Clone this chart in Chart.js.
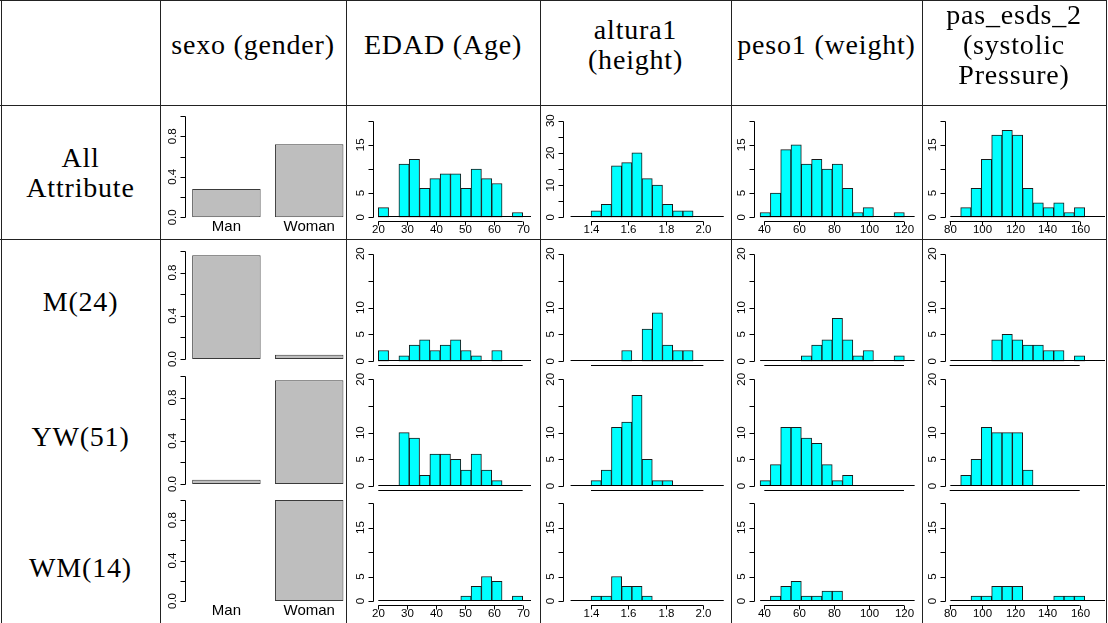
<!DOCTYPE html>
<html>
<head>
<meta charset="utf-8">
<script src="https://cdn.jsdelivr.net/npm/chart.js@4.4.0/dist/chart.umd.min.js"></script>
<style>
html,body{margin:0;padding:0;background:#fff;}
#page{position:relative;width:1108px;height:623px;overflow:hidden;font-family:"Liberation Serif","DejaVu Serif",serif;color:#000;}
.vl{position:absolute;top:0;bottom:0;width:1px;background:#222;z-index:5;}
.hl{position:absolute;left:0;width:1107px;height:1px;background:#222;z-index:5;}
.txt{position:absolute;transform:translate(-50%,-50%);font-size:28px;letter-spacing:0.8px;line-height:30px;white-space:nowrap;text-align:center;z-index:6;}
canvas{position:absolute;}
</style>
</head>
<body>
<div id="page"></div>
<script>
// ---- data ----
const groups = ['All\nAttribute', 'M(24)', 'YW(51)', 'WM(14)'];
const headers = ['sexo (gender)', 'EDAD (Age)', 'altura1\n(height)', 'peso1 (weight)', 'pas_esds_2\n(systolic\nPressure)'];

const sexLabels = ['Man', 'Woman'];
const sexAll = [0.28, 0.72];
const sexM = [0.96, 0.04];
const sexYW = [0.04, 0.96];
const sexWM = [0.0, 1.0];

const ageBreaks = [20, 23.57, 27.14, 30.71, 34.29, 37.86, 41.43, 45, 48.57, 52.14, 55.71, 59.29, 62.86, 66.43, 70, 73.57];
const ageAll = [2, 0, 11, 12, 6, 8, 9, 9, 6, 10, 8, 7, 0, 1, 0];
const ageM   = [2, 0, 1, 3, 4, 2, 3, 4, 2, 1, 0, 2, 0, 0, 0];
const ageYW  = [0, 0, 10, 9, 2, 6, 6, 5, 3, 6, 3, 1, 0, 0, 0];
const ageWM  = [0, 0, 0, 0, 0, 0, 0, 0, 1, 3, 5, 4, 0, 1, 0];

const heightBreaks = [1.291, 1.345, 1.4, 1.455, 1.509, 1.564, 1.618, 1.673, 1.727, 1.782, 1.836, 1.891, 1.945, 2.0, 2.055, 2.109];
const heightAll = [0, 0, 2, 4, 16, 17, 20, 12, 10, 4, 2, 2, 0, 0, 0];
const heightM   = [0, 0, 0, 0, 0, 2, 0, 6, 9, 3, 2, 2, 0, 0, 0];
const heightYW  = [0, 0, 1, 3, 11, 12, 17, 5, 1, 1, 0, 0, 0, 0, 0];
const heightWM  = [0, 0, 1, 1, 5, 3, 3, 1, 0, 0, 0, 0, 0, 0, 0];

const weightBreaks = [37.6, 43.5, 49.4, 55.3, 61.2, 67.1, 73.0, 78.9, 84.8, 90.7, 96.6, 102.5, 108.4, 114.3, 120.2, 126.1];
const weightAll = [1, 5, 14, 15, 11, 12, 10, 11, 6, 1, 2, 0, 0, 1, 0];
const weightM   = [0, 0, 0, 0, 1, 3, 4, 8, 4, 1, 2, 0, 0, 1, 0];
const weightYW  = [1, 4, 11, 11, 9, 8, 4, 1, 2, 0, 0, 0, 0, 0, 0];
const weightWM  = [0, 1, 3, 4, 1, 1, 2, 2, 0, 0, 0, 0, 0, 0, 0];

const pressureBreaks = [80.4, 86.76, 93.12, 99.48, 105.84, 112.2, 118.56, 124.92, 131.28, 137.64, 144.0, 150.36, 156.72, 163.08, 169.44, 175.8];
const pressureAll = [0, 2, 6, 12, 17, 18, 17, 6, 3, 2, 3, 1, 2, 0, 0];
const pressureM   = [0, 0, 0, 0, 4, 5, 4, 3, 3, 2, 2, 0, 1, 0, 0];
const pressureYW  = [0, 2, 5, 11, 10, 10, 10, 3, 0, 0, 0, 0, 0, 0, 0];
const pressureWM  = [0, 0, 1, 1, 3, 3, 3, 0, 0, 0, 1, 1, 1, 0, 0];

// tick values
const sexTicks = [0, 0.2, 0.4, 0.6, 0.8, 1.0];
const sexTickLabels = [0, 0.4, 0.8];
const countTicks = [0, 5, 10, 15, 20];
const heightAllTicks = [0, 5, 10, 15, 20, 25, 30];
const heightAllTickLabels = [0, 10, 20, 30];
const countLabelsWide = [0, 5, 15];
const countLabelsTall = [0, 5, 10, 20];
const ageTicks = [20, 30, 40, 50, 60, 70];
const heightTicks = [1.4, 1.6, 1.8, 2.0];
const weightTicks = [40, 60, 80, 100, 120];
const pressureTicks = [80, 100, 120, 140, 160];

// ---- layout (pixels) ----
const colLines = [1, 160, 346, 540, 731, 922, 1106];
const rowLines = [0, 105, 239];
const cols = {
  sexo:     {cx0: 161, cx1: 356, L: 185,   R: 350.6},
  age:      {cx0: 347, cx1: 540, L: 373.3, R: 531,  min: 18.27, max: 72.88},
  height:   {cx0: 541, cx1: 731, L: 563.3, R: 726,  min: 1.252, max: 2.121},
  weight:   {cx0: 732, cx1: 922, L: 754.3, R: 920,  min: 34.27, max: 129.17},
  pressure: {cx0: 923, cx1: 1108, L: 944.7, R: 1105, min: 76.92, max: 175.57}
};
const rows = [
  {cy0: 106, cy1: 239, top: 120.7, zero: 217.3, sexTop: 116, sexZero: 217.3, xlab: true,  tall: false},
  {cy0: 240, cy1: 368, top: 253.7, zero: 361.3, sexTop: 251, sexZero: 359,   xlab: false, tall: true},
  {cy0: 368, cy1: 494, top: 379.3, zero: 486,   sexTop: 376, sexZero: 484,   xlab: false, tall: true},
  {cy0: 494, cy1: 623, top: 503,   zero: 601,   sexTop: 500, sexZero: 601,   xlab: true,  tall: false}
];

const page = document.getElementById('page');
colLines.forEach(x => { const d = document.createElement('div'); d.className = 'vl'; d.style.left = x + 'px'; page.appendChild(d); });
rowLines.forEach(y => { const d = document.createElement('div'); d.className = 'hl'; d.style.top = y + 'px'; page.appendChild(d); });

function addText(str, x, y) {
  const d = document.createElement('div');
  d.className = 'txt';
  d.style.left = x + 'px'; d.style.top = y + 'px';
  d.innerHTML = str.split('\n').join('<br>');
  page.appendChild(d);
}
const headerCenters = [253, 443, 635.5, 826.5, 1014];
headers.forEach((h, i) => addText(h, headerCenters[i], 45));
const groupCenters = [173, 302, 437, 568];
groups.forEach((g, i) => addText(g, 80.5, groupCenters[i]));

// R-like axes: drawn through the chart's own scales
const rStyleAxes = {
  id: 'rStyleAxes',
  afterDatasetsDraw(chart, args, o) {
    const ctx = chart.ctx, xs = chart.scales.x, ys = chart.scales.y, area = chart.chartArea;
    const px = v => Math.round(v) + 0.5;
    const seg = (x1, y1, x2, y2) => { ctx.beginPath(); ctx.moveTo(x1, y1); ctx.lineTo(x2, y2); ctx.stroke(); };
    ctx.save();
    ctx.strokeStyle = '#000'; ctx.fillStyle = '#000'; ctx.lineWidth = 1;
    if (o.breaks) {
      const y = px(ys.getPixelForValue(0) - 1);
      seg(Math.max(area.left, xs.getPixelForValue(o.breaks[0])), y,
          Math.min(area.right, xs.getPixelForValue(o.breaks[o.breaks.length - 1])), y);
    }
    const ax = px(area.left);
    const yt = o.yTicks;
    seg(ax, px(ys.getPixelForValue(yt[0])), ax, px(ys.getPixelForValue(yt[yt.length - 1])));
    yt.forEach(v => { const y = px(ys.getPixelForValue(v)); seg(ax - 5, y, ax, y); });
    ctx.font = '11.5px "Liberation Sans", Arial, sans-serif';
    ctx.textAlign = 'center'; ctx.textBaseline = 'middle';
    o.yLabels.forEach(v => {
      ctx.save();
      ctx.translate(ax - 12.5, ys.getPixelForValue(v));
      ctx.rotate(-Math.PI / 2);
      ctx.fillText(v.toFixed(o.yDigits), 0, 0);
      ctx.restore();
    });
    if (o.xTicks) {
      const ay = px(area.bottom + 4);
      const xt = o.xTicks;
      seg(xs.getPixelForValue(xt[0]), ay, xs.getPixelForValue(xt[xt.length - 1]), ay);
      if (o.xLabels) {
        xt.forEach(v => {
          const x = px(xs.getPixelForValue(v));
          seg(x, ay, x, ay + 4);
          ctx.fillText(v.toFixed(o.xDigits), x, ay + 8);
        });
      }
    }
    if (o.names) {
      ctx.font = '15px "Liberation Sans", Arial, sans-serif';
      chart.data.labels.forEach((n, i) => ctx.fillText(n, xs.getPixelForValue(i), area.bottom + 10));
    }
    ctx.restore();
  }
};

function makeCanvas(c, r) {
  const cv = document.createElement('canvas');
  cv.width = c.cx1 - c.cx0; cv.height = r.cy1 - r.cy0;
  cv.style.left = c.cx0 + 'px'; cv.style.top = r.cy0 + 'px';
  page.appendChild(cv);
  return cv;
}

function sexChart(values, r) {
  const c = cols.sexo;
  const cv = makeCanvas(c, r);
  new Chart(cv, {
    type: 'bar',
    data: {labels: sexLabels, datasets: [{data: values, backgroundColor: '#bebebe', borderColor: '#3a3a3a', borderWidth: 1, borderSkipped: false, barPercentage: 0.827, categoryPercentage: 1}]},
    options: {
      responsive: false, animation: false, events: [],
      layout: {padding: {left: c.L - c.cx0, right: c.cx1 - c.R, top: r.sexTop - r.cy0, bottom: r.cy1 - r.sexZero}},
      scales: {x: {type: 'category', display: false, offset: true}, y: {display: false, min: 0, max: 1}},
      plugins: {legend: {display: false}, tooltip: {enabled: false},
        rStyleAxes: {yTicks: sexTicks, yLabels: sexTickLabels, yDigits: 1, names: r.xlab}}
    },
    plugins: [rStyleAxes]
  });
}

function histChart(key, breaks, counts, r, ticks, xDigits, yTicks, yLabels) {
  const c = cols[key];
  const cv = makeCanvas(c, r);
  const pts = counts.map((n, i) => ({x: (breaks[i] + breaks[i + 1]) / 2, y: n}));
  const yMax = yTicks[yTicks.length - 1];
  new Chart(cv, {
    type: 'bar',
    data: {datasets: [{data: pts, backgroundColor: '#00ffff', borderColor: '#1a1a1a', borderWidth: 1, borderSkipped: false, barPercentage: 1, categoryPercentage: 1}]},
    options: {
      responsive: false, animation: false, events: [],
      layout: {padding: {left: c.L - c.cx0, right: c.cx1 - c.R, top: r.top - r.cy0, bottom: r.cy1 - r.zero}},
      scales: {x: {type: 'linear', display: false, offset: false, min: c.min, max: c.max}, y: {display: false, min: 0, max: yMax}},
      plugins: {legend: {display: false}, tooltip: {enabled: false},
        rStyleAxes: {breaks: breaks, yTicks: yTicks, yLabels: yLabels, yDigits: 0, xTicks: ticks, xLabels: r.xlab, xDigits: xDigits}}
    },
    plugins: [rStyleAxes]
  });
}

const sexRows = [sexAll, sexM, sexYW, sexWM];
const ageRows = [ageAll, ageM, ageYW, ageWM];
const heightRows = [heightAll, heightM, heightYW, heightWM];
const weightRows = [weightAll, weightM, weightYW, weightWM];
const pressureRows = [pressureAll, pressureM, pressureYW, pressureWM];

rows.forEach((r, i) => {
  const yl = r.tall ? countLabelsTall : countLabelsWide;
  sexChart(sexRows[i], r);
  histChart('age', ageBreaks, ageRows[i], r, ageTicks, 0, countTicks, yl);
  if (i === 0) histChart('height', heightBreaks, heightRows[i], r, heightTicks, 1, heightAllTicks, heightAllTickLabels);
  else histChart('height', heightBreaks, heightRows[i], r, heightTicks, 1, countTicks, yl);
  histChart('weight', weightBreaks, weightRows[i], r, weightTicks, 0, countTicks, yl);
  histChart('pressure', pressureBreaks, pressureRows[i], r, pressureTicks, 0, countTicks, yl);
});
</script>
</body>
</html>
